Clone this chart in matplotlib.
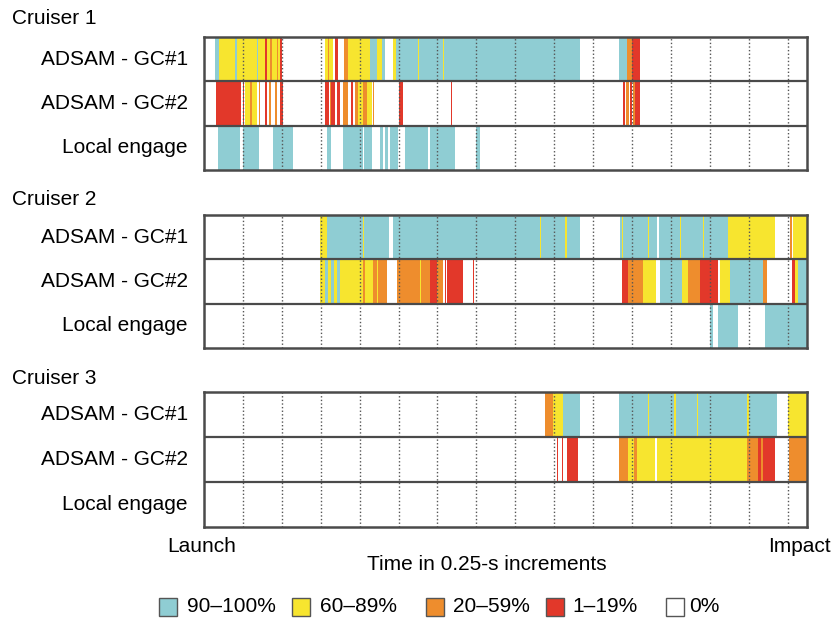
import matplotlib
matplotlib.use("Agg")
import matplotlib.pyplot as plt
from matplotlib.patches import Rectangle

plt.rcParams['font.family'] = ['Liberation Sans', 'DejaVu Sans']

# categories: T = 90-100%, Y = 60-89%, O = 20-59%, R = 1-19%
colors = {"T": "#8fcdd3", "Y": "#f7e52f", "O": "#ee8d2d", "R": "#e2382a"}
legend_labels = ["90\u2013100%", "60\u201389%", "20\u201359%", "1\u201319%", "0%"]
legend_keys = ["T", "Y", "O", "R", None]

row_names = ["ADSAM - GC#1", "ADSAM - GC#2", "Local engage"]
cruisers = ["Cruiser 1", "Cruiser 2", "Cruiser 3"]

# segments (start, end, category) in time steps, total 155
c1_gc1 = [(2.8, 3.9, "T"), (3.9, 8.0, "Y"), (8.0, 8.5, "T"), (8.5, 13.6, "Y"),
          (13.6, 13.9, "T"), (13.9, 15.7, "Y"), (15.7, 16.2, "R"), (16.2, 16.9, "Y"),
          (16.9, 17.4, "O"), (17.4, 18.8, "Y"), (18.8, 19.0, "O"), (19.0, 19.5, "Y"),
          (19.5, 20.1, "R"), (31.1, 31.9, "Y"), (31.9, 32.1, "O"), (32.1, 33.2, "Y"),
          (33.7, 34.4, "R"), (36.0, 37.0, "O"), (37.0, 42.7, "Y"), (42.7, 44.5, "T"),
          (44.5, 45.8, "Y"), (45.8, 46.5, "T"), (48.6, 49.4, "Y"), (49.4, 55.0, "T"),
          (55.0, 55.3, "Y"), (55.3, 61.4, "T"), (61.4, 61.7, "Y"), (61.7, 96.7, "T"),
          (106.7, 108.7, "T"), (108.7, 110.0, "O"), (110.0, 112.1, "R")]
c1_gc2 = [(3.1, 9.5, "R"), (10.0, 10.3, "R"), (10.5, 11.8, "Y"), (11.8, 12.3, "O"),
          (12.3, 13.6, "Y"), (14.1, 14.4, "O"), (15.7, 16.2, "R"), (16.7, 17.2, "O"),
          (18.3, 18.8, "O"), (19.5, 20.3, "R"), (31.1, 32.1, "R"), (32.4, 32.6, "O"),
          (32.6, 33.7, "R"), (34.2, 35.0, "R"), (35.7, 37.0, "O"), (37.8, 38.3, "R"),
          (38.8, 39.6, "O"), (39.6, 40.9, "Y"), (40.9, 41.9, "O"), (41.9, 43.2, "Y"),
          (43.4, 43.7, "O"), (50.1, 51.2, "R"), (63.5, 63.8, "R"), (107.7, 108.2, "R"),
          (108.5, 109.3, "O"), (109.5, 110.0, "R"), (110.3, 110.8, "O"), (110.8, 112.1, "R")]
c1_local = [(3.6, 9.3, "T"), (10.0, 14.1, "T"), (17.7, 22.9, "T"), (31.6, 32.6, "T"),
            (35.7, 40.9, "T"), (41.1, 43.2, "T"), (45.2, 46.0, "T"), (46.5, 47.3, "T"),
            (47.8, 49.9, "T"), (51.7, 57.6, "T"), (58.1, 64.5, "T"), (69.9, 71.0, "T")]

c2_gc1 = [(29.8, 31.6, "Y"), (31.6, 40.9, "T"), (40.9, 41.1, "Y"), (41.1, 47.6, "T"),
          (48.6, 86.4, "T"), (86.4, 86.7, "Y"), (86.7, 92.8, "T"), (92.8, 93.2, "Y"),
          (93.2, 96.7, "T"), (106.9, 107.5, "T"), (107.5, 107.8, "Y"), (107.8, 114.1, "T"),
          (114.1, 114.4, "Y"), (114.4, 116.5, "T"), (117.0, 122.4, "T"), (122.4, 122.7, "Y"),
          (122.7, 128.3, "T"), (128.3, 128.6, "Y"), (128.6, 134.7, "T"), (134.7, 146.8, "Y"),
          (150.6, 151.2, "O"), (151.4, 155.0, "Y")]
c2_gc2 = [(29.8, 31.1, "Y"), (31.1, 31.9, "T"), (31.9, 32.6, "Y"), (32.6, 33.4, "T"),
          (33.4, 34.2, "Y"), (34.2, 35.0, "T"), (35.0, 40.9, "Y"), (40.9, 41.4, "O"),
          (41.4, 43.4, "Y"), (43.4, 44.5, "O"), (44.5, 44.7, "Y"), (44.7, 47.0, "O"),
          (49.6, 55.5, "O"), (55.5, 55.8, "Y"), (55.8, 58.1, "O"), (58.1, 59.9, "R"),
          (59.9, 61.4, "O"), (62.0, 62.2, "R"), (62.5, 66.6, "R"), (69.2, 69.4, "R"),
          (107.5, 109.0, "R"), (109.0, 112.9, "O"), (112.9, 116.2, "Y"), (117.2, 122.9, "T"),
          (122.9, 124.4, "Y"), (124.4, 127.5, "O"), (127.5, 132.1, "R"), (132.6, 135.2, "Y"),
          (135.2, 143.7, "T"), (143.7, 144.7, "O"), (151.2, 151.9, "R"), (151.9, 152.7, "Y"),
          (152.7, 155.0, "T")]
c2_local = [(130.1, 130.8, "T"), (132.1, 137.3, "T"), (144.2, 155.0, "T")]

c3_gc1 = [(87.7, 89.7, "O"), (89.7, 92.3, "Y"), (92.3, 96.7, "T"), (106.7, 114.1, "T"),
          (114.1, 114.5, "Y"), (114.5, 120.8, "T"), (120.8, 121.2, "Y"), (121.2, 126.7, "T"),
          (126.7, 127.1, "Y"), (127.1, 139.6, "T"), (139.6, 140.2, "Y"), (140.2, 147.3, "T"),
          (150.1, 155.0, "Y")]
c3_gc2 = [(90.7, 91.0, "R"), (92.0, 92.3, "R"), (93.3, 96.1, "R"), (106.7, 109.0, "O"),
          (109.0, 110.5, "Y"), (110.5, 111.3, "O"), (111.3, 115.9, "Y"), (116.4, 139.6, "Y"),
          (139.6, 142.4, "O"), (142.4, 143.3, "R"), (143.3, 143.8, "O"), (143.8, 146.8, "R"),
          (150.4, 155.0, "O")]
c3_local = []

panels = [[c1_gc1, c1_gc2, c1_local],
          [c2_gc1, c2_gc2, c2_local],
          [c3_gc1, c3_gc2, c3_local]]

W, H = 837, 620
fig = plt.figure(figsize=(W / 100, H / 100), dpi=100)
fs = 15

# panel boxes in pixels: (top, bottom)
boxes = [(37, 170), (215, 348), (392, 527)]
label_y = [18, 200, 378]
left_px, right_px = 204, 807
edge = "#4a4a4a"

for cruiser, rows, (top, bot), ly in zip(cruisers, panels, boxes, label_y):
    ax = fig.add_axes([left_px / W, 1 - bot / H, (right_px - left_px) / W, (bot - top) / H])
    for r, segs in enumerate(rows):
        for s, e, c in segs:
            ax.barh(r, e - s, left=s, height=1.0, align="edge",
                    color=colors[c], linewidth=0, zorder=1)
    ax.set_xlim(0, 155)
    ax.set_ylim(3, 0)
    ax.set_xticks(range(10, 151, 10))
    ax.set_yticks([])
    ax.tick_params(length=0, labelbottom=False)
    ax.grid(axis="x", linestyle=(0, (1, 1.6)), color="#555555", linewidth=1.0, zorder=2)
    ax.set_axisbelow(False)
    for yy in (1, 2):
        ax.axhline(yy, color=edge, linewidth=1.6, zorder=3)
    for sp in ax.spines.values():
        sp.set_color(edge)
        sp.set_linewidth(1.8)
    for r, name in enumerate(row_names):
        ax.text(-0.027, 1 - (r + 0.5) / 3, name, transform=ax.transAxes,
                ha="right", va="center", fontsize=fs)
    fig.text(12 / W, 1 - ly / H, cruiser, ha="left", va="center", fontsize=fs)

fig.text(167 / W, 1 - 547 / H, "Launch", ha="left", va="center", fontsize=fs)
fig.text(831 / W, 1 - 547 / H, "Impact", ha="right", va="center", fontsize=fs)
fig.text(487 / W, 1 - 565 / H, "Time in 0.25-s increments", ha="center", va="center", fontsize=fs)

# legend drawn in pixel positions
sq_x = [159, 292, 426, 546, 666]
tx_x = [187, 320, 453, 572, 689]
for x0, tx, key, lab in zip(sq_x, tx_x, legend_keys, legend_labels):
    fc = colors[key] if key else "white"
    fig.add_artist(Rectangle((x0 / W, 1 - 616 / H), 18 / W, 18 / H, transform=fig.transFigure,
                             facecolor=fc, edgecolor="#555555", linewidth=1.0))
    fig.text(tx / W, 1 - 606 / H, lab, ha="left", va="center", fontsize=fs)

fig.savefig("out.png", dpi=100)
